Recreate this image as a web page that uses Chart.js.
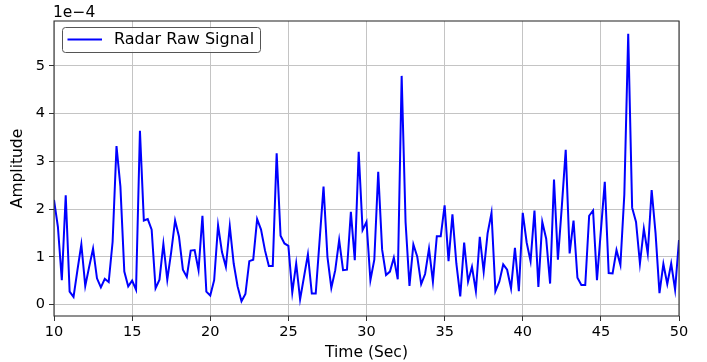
<!DOCTYPE html>
<html>
<head>
<meta charset="utf-8">
<script src="https://cdn.jsdelivr.net/npm/chart.js@4"></script>
<style>
  html, body { margin: 0; padding: 0; background: #fff; }
</style>
</head>
<body>
<canvas id="myChart" width="707" height="362"></canvas>
<script>
// sample clock of the radar trace (seconds)
const START_TIME = 10;
const STEP = 0.25;

// amplitude, in units of 1e-4 (one value every 0.25 s, 10 s .. 50 s)
const amplitude = [
  2.19, 1.63, 0.51, 2.29, 0.27, 0.16, 0.72, 1.26,
  0.39, 0.79, 1.17, 0.55, 0.36, 0.54, 0.47, 1.31,
  3.32, 2.47, 0.69, 0.38, 0.50, 0.31, 3.64, 1.76,
  1.79, 1.57, 0.34, 0.52, 1.27, 0.52, 1.10, 1.76,
  1.42, 0.73, 0.58, 1.13, 1.14, 0.72, 1.86, 0.27,
  0.19, 0.51, 1.66, 1.10, 0.79, 1.64, 0.86, 0.38,
  0.07, 0.22, 0.91, 0.94, 1.79, 1.57, 1.14, 0.81,
  0.81, 3.17, 1.44, 1.28, 1.23, 0.25, 0.86, 0.11,
  0.58, 1.05, 0.23, 0.23, 1.35, 2.47, 1.00, 0.35,
  0.72, 1.35, 0.72, 0.73, 1.94, 0.93, 3.20, 1.56,
  1.73, 0.51, 0.94, 2.78, 1.15, 0.62, 0.69, 0.98,
  0.53, 4.79, 1.73, 0.39, 1.26, 1.00, 0.43, 0.64,
  1.17, 0.48, 1.43, 1.43, 2.08, 0.91, 1.89, 0.86,
  0.17, 1.30, 0.48, 0.79, 0.28, 1.42, 0.69, 1.49,
  1.92, 0.28, 0.48, 0.84, 0.73, 0.34, 1.19, 0.28,
  1.92, 1.30, 0.91, 1.97, 0.37, 1.73, 1.38, 0.44,
  2.62, 0.94, 2.05, 3.24, 1.07, 1.76, 0.56, 0.41,
  0.41, 1.86, 1.97, 0.51, 1.55, 2.57, 0.66, 0.65,
  1.14, 0.83, 2.30, 5.67, 2.03, 1.73, 0.86, 1.59,
  1.07, 2.40, 1.49, 0.24, 0.85, 0.43, 0.86, 0.31,
  1.35
];

const xTicks = [10, 15, 20, 25, 30, 35, 40, 45, 50];
const yTicks = [0, 1, 2, 3, 4, 5];
const offsetLabel = '1e\u22124';
const seriesLabel = 'Radar Raw Signal';

const FONT = '"DejaVu Sans", sans-serif';

const points = amplitude.map((v, i) => ({ x: START_TIME + i * STEP, y: v }));

// frame, offset text and the matplotlib style legend
const decor = {
  id: 'decor',
  afterDraw(chart) {
    const ctx = chart.ctx;
    const a = chart.chartArea;
    ctx.save();
    ctx.strokeStyle = '#333';
    ctx.lineWidth = 1.1;
    ctx.strokeRect(a.left, a.top, a.right - a.left, a.bottom - a.top);

    ctx.fillStyle = '#000';
    ctx.font = '15.5px ' + FONT;
    ctx.textBaseline = 'middle';
    ctx.textAlign = 'left';
    ctx.fillText(offsetLabel, 53, 12.5);

    // legend box
    ctx.beginPath();
    ctx.roundRect(62.5, 27.5, 198, 25, 3);
    ctx.fillStyle = 'rgba(255,255,255,0.85)';
    ctx.fill();
    ctx.strokeStyle = '#555';
    ctx.lineWidth = 1;
    ctx.stroke();
    ctx.beginPath();
    ctx.moveTo(67.5, 39.5);
    ctx.lineTo(102, 39.5);
    ctx.strokeStyle = '#0000ff';
    ctx.lineWidth = 2;
    ctx.stroke();
    ctx.fillStyle = '#000';
    ctx.font = '16px ' + FONT;
    ctx.fillText(seriesLabel, 114, 40);
    ctx.restore();
  }
};

const ctx = document.getElementById('myChart').getContext('2d');
new Chart(ctx, {
  type: 'line',
  data: {
    datasets: [{
      label: seriesLabel,
      data: points,
      borderColor: '#0000ff',
      borderWidth: 2,
      pointRadius: 0,
      tension: 0,
      fill: false
    }]
  },
  options: {
    responsive: false,
    animation: false,
    devicePixelRatio: 1,
    layout: { padding: { top: 21, right: 28, left: 0, bottom: 0 } },
    plugins: {
      legend: { display: false },
      tooltip: { enabled: false }
    },
    scales: {
      x: {
        type: 'linear',
        min: 10,
        max: 50,
        afterBuildTicks: s => { s.ticks = xTicks.map(v => ({ value: v })); },
        afterFit: s => { s.height = 46; },
        ticks: { color: '#000', font: { family: FONT, size: 14.5 }, padding: 3, maxRotation: 0 },
        grid: { color: '#c4c4c4', lineWidth: 1, tickLength: 5, tickColor: '#333' },
        border: { display: false },
        title: { display: true, text: 'Time (Sec)', color: '#000', font: { family: FONT, size: 15.5 }, padding: { top: 0, bottom: 0 } }
      },
      y: {
        min: -0.24,
        max: 5.94,
        afterBuildTicks: s => { s.ticks = yTicks.map(v => ({ value: v })); },
        afterFit: s => { s.width = 54; },
        ticks: { color: '#000', font: { family: FONT, size: 14.5 }, padding: 4 },
        grid: { color: '#c4c4c4', lineWidth: 1, tickLength: 5, tickColor: '#333' },
        border: { display: false },
        title: { display: true, text: 'Amplitude', color: '#000', font: { family: FONT, size: 15.5 }, padding: { top: 9, bottom: 0 } }
      }
    }
  },
  plugins: [decor]
});
</script>
</body>
</html>
